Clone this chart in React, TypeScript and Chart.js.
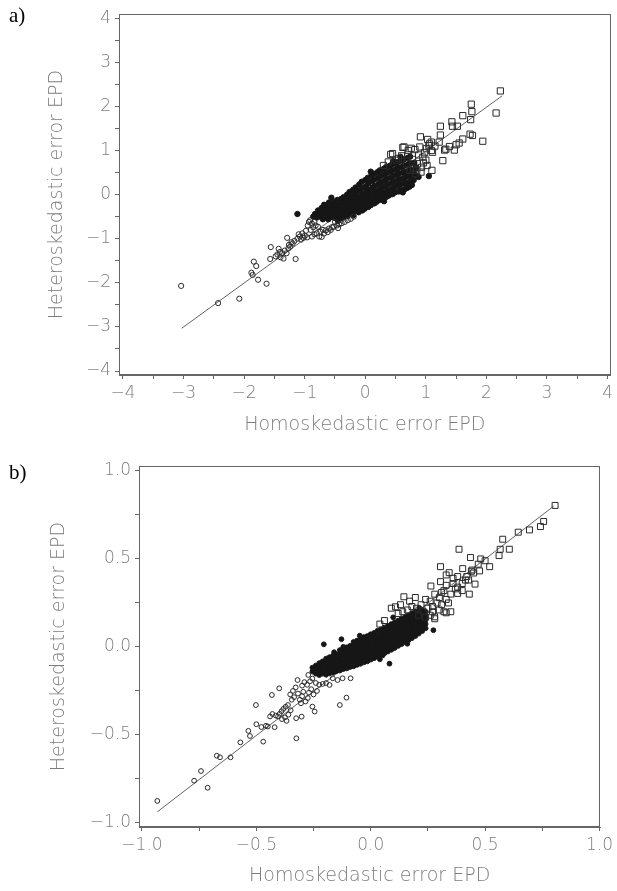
import { useEffect, useRef } from 'react';
import { Chart, registerables } from 'chart.js';

Chart.register(...registerables);

type P = [number, number];

const xTitle = 'Homoskedastic error EPD';
const yTitle = 'Heteroskedastic error EPD';

// ---------- panel a) ----------
const aTickValues = [-4, -3.5, -3, -2.5, -2, -1.5, -1, -0.5, 0, 0.5, 1, 1.5, 2, 2.5, 3, 3.5, 4];
const aTickLabels = ['−4', '', '−3', '', '−2', '', '−1', '', '0', '', '1', '', '2', '', '3', '', '4'];

const aLine: P[] = [[-3.03, -3.03], [2.26, 2.24]];

const aOpenCircles: P[] = [
  [-3.04, -2.07], [-2.43, -2.46], [-2.08, -2.36], [-1.86, -1.82], [-1.88, -1.77], [-1.77, -1.93],
  [-1.63, -2.02], [-1.84, -1.52], [-1.80, -1.62], [-1.57, -1.46], [-1.56, -1.19], [-1.15, -1.46],
  [-1.29, -0.98], [-1.43, -1.23], [-1.37, -1.33], [-1.45, -1.36], [-1.40, -1.42], [-1.33, -1.27],
  [-1.30, -1.33], [-1.27, -1.22], [-1.24, -1.18], [-1.35, -1.45], [-1.41, -1.30], [-1.48, -1.40],
  [-1.20, -1.11], [-1.17, -1.05], [-1.12, -1.00], [-1.08, -0.95], [-1.04, -0.88], [-1.00, -0.93],
  [-0.96, -0.97], [-0.93, -0.62], [-0.91, -0.58], [-0.95, -0.70], [-0.88, -0.95], [-0.84, -0.90],
  [-0.80, -0.88], [-0.76, -0.95], [-0.72, -0.96], [-0.78, -0.73], [-0.70, -0.80], [-0.65, -0.81],
  [-0.60, -0.77], [-0.55, -0.74], [-0.52, -0.73], [-0.47, -0.70], [-0.43, -0.67], [-0.39, -0.65],
  [-0.34, -0.62], [-0.90, -0.80], [-0.86, -0.74], [-0.82, -0.70], [-0.98, -0.82], [-1.02, -0.98],
  [-1.06, -1.02], [-0.74, -0.84], [-0.68, -0.88], [-0.62, -0.85], [-0.57, -0.80], [-0.50, -0.62],
  [-0.45, -0.76], [-0.88, -0.66], [-0.84, -0.62], [-1.10, -0.90], [-1.22, -1.08], [-1.26, -1.14],
  [-0.29, -0.58], [-0.24, -0.55], [-0.19, -0.50],
];

const aFilled: P[] = [
  [-1.12, -0.44], [-0.68, -0.23],
  [-0.86, -0.50], [-0.83, -0.44], [-0.80, -0.52],
  [-0.79, -0.46], [-0.78, -0.36],
  [-0.76, -0.40], [-0.74, -0.50], [-0.72, -0.30], [-0.70, -0.56],
  [-0.69, -0.34], [-0.68, -0.44], [-0.67, -0.52],
  [-0.66, -0.24], [-0.65, -0.36], [-0.63, -0.47], [-0.61, -0.56],
  [-0.60, -0.18], [-0.59, -0.30], [-0.58, -0.41], [-0.57, -0.51],
  [-0.56, -0.07], [-0.55, -0.20], [-0.53, -0.31], [-0.52, -0.42], [-0.50, -0.53],
  [-0.50, -0.16], [-0.49, -0.28], [-0.48, -0.39], [-0.47, -0.50],
  [-0.46, -0.12], [-0.45, -0.24], [-0.44, -0.35], [-0.42, -0.46], [-0.41, -0.54],
  [-0.40, -0.10], [-0.39, -0.21], [-0.38, -0.33], [-0.37, -0.44], [-0.36, -0.52],
  [-0.36, -0.06], [-0.35, -0.18], [-0.33, -0.30], [-0.32, -0.41], [-0.30, -0.49],
  [-0.30, 0.00], [-0.29, -0.12], [-0.28, -0.24], [-0.27, -0.35], [-0.26, -0.45],
  [-0.26, 0.06], [-0.25, -0.06], [-0.24, -0.18], [-0.22, -0.29], [-0.21, -0.40],
  [-0.20, 0.11], [-0.19, -0.01], [-0.18, -0.13], [-0.17, -0.25], [-0.16, -0.36],
  [-0.16, 0.16], [-0.15, 0.04], [-0.14, -0.08], [-0.13, -0.20], [-0.12, -0.32], [-0.11, -0.40],
  [-0.10, 0.23], [-0.09, 0.09], [-0.08, -0.04], [-0.07, -0.16], [-0.06, -0.27], [-0.05, -0.36],
  [-0.06, 0.29], [-0.05, 0.15], [-0.04, 0.01], [-0.03, -0.11], [-0.02, -0.22], [-0.01, -0.32],
  [0.00, 0.33], [0.01, 0.19], [0.02, 0.06], [0.03, -0.06], [0.04, -0.18], [0.05, -0.28],
  [0.04, 0.38], [0.05, 0.25], [0.06, 0.11], [0.07, -0.01], [0.08, -0.13], [0.09, -0.24],
  [0.10, 0.43], [0.11, 0.30], [0.12, 0.16], [0.13, 0.03], [0.14, -0.09], [0.15, -0.20],
  [0.14, 0.47], [0.15, 0.34], [0.16, 0.20], [0.17, 0.07], [0.18, -0.05], [0.19, -0.16],
  [0.20, 0.51], [0.21, 0.38], [0.22, 0.24], [0.23, 0.11], [0.24, -0.01], [0.25, -0.12],
  [0.24, 0.55], [0.25, 0.42], [0.26, 0.28], [0.27, 0.15], [0.28, 0.03], [0.29, -0.09],
  [0.30, 0.58], [0.31, 0.45], [0.32, 0.32], [0.33, 0.19], [0.34, 0.06], [0.35, -0.05],
  [0.34, 0.62], [0.35, 0.49], [0.36, 0.36], [0.37, 0.23], [0.38, 0.10], [0.39, -0.02],
  [0.40, 0.65], [0.41, 0.52], [0.42, 0.39], [0.43, 0.26], [0.44, 0.13], [0.45, 0.01],
  [0.44, 0.68], [0.45, 0.55], [0.46, 0.42], [0.47, 0.29], [0.48, 0.17], [0.49, 0.05],
  [0.50, 0.71], [0.51, 0.58], [0.52, 0.45], [0.53, 0.32], [0.54, 0.20], [0.55, 0.07],
  [0.54, 0.74], [0.55, 0.61], [0.56, 0.48], [0.57, 0.35], [0.58, 0.23], [0.59, 0.10],
  [0.60, 0.77], [0.61, 0.63], [0.62, 0.50], [0.63, 0.37], [0.64, 0.25], [0.65, 0.12],
  [0.64, 0.80], [0.65, 0.66], [0.66, 0.52], [0.67, 0.40], [0.68, 0.27], [0.69, 0.15],
  [0.70, 0.83], [0.71, 0.69], [0.72, 0.55], [0.73, 0.42], [0.74, 0.30], [0.73, 0.18],
  [0.74, 0.86], [0.75, 0.71], [0.76, 0.57], [0.77, 0.44], [0.78, 0.32], [0.77, 0.22],
  [0.81, 0.72], [0.82, 0.58], [0.81, 0.46], [0.80, 0.33],
  [0.88, 0.40], [1.05, 0.42], [0.84, 0.62], [0.62, 0.05],
  [0.09, 0.52], [0.46, 0.76], [-0.20, -0.47], [0.31, -0.15], [0.58, 0.86], [-0.45, -0.60],
];

const aSquares: P[] = [
  [2.23, 2.35], [1.75, 2.05], [1.76, 1.88], [1.74, 1.70], [2.16, 1.85], [1.61, 1.79], [1.43, 1.65],
  [1.44, 1.55], [1.24, 1.55], [1.52, 1.55], [1.73, 1.37], [1.77, 1.34], [1.94, 1.21], [1.61, 1.26],
  [1.55, 1.17], [1.50, 1.13], [1.39, 1.09], [1.31, 1.01], [1.33, 1.03], [1.47, 1.01], [1.28, 0.77],
  [1.24, 1.35], [1.22, 1.19], [1.09, 1.19], [1.11, 0.96], [1.05, 1.11], [0.91, 1.31], [1.03, 1.25],
  [1.01, 1.04], [1.10, 0.55], [0.92, 0.51], [0.62, 1.07], [0.42, 0.91], [0.30, 0.66], [1.06, 1.15],
  [0.45, 0.93], [0.64, 1.08], [0.71, 1.00], [0.82, 1.02], [0.93, 0.62], [1.09, 1.00], [0.51, 0.78],
  [0.78, 0.80], [0.74, 0.55], [0.83, 0.47], [0.38, 0.74], [0.88, 0.90], [0.95, 0.85], [0.70, 0.90],
  [0.60, 0.88], [0.55, 0.82], [0.86, 0.70], [0.98, 0.95], [1.00, 0.78], [0.80, 0.60], [0.90, 1.08],
  [0.76, 1.05], [1.15, 1.10], [0.68, 0.70], [0.96, 0.72], [0.85, 0.55], [1.02, 0.66],
];

// ---------- panel b) ----------
const bTickValues = [-1, -0.75, -0.5, -0.25, 0, 0.25, 0.5, 0.75, 1];
const bTickLabels = ['−1.0', '', '−0.5', '', '0.0', '', '0.5', '', '1.0'];

const bLine: P[] = [[-0.933, -0.937], [0.80, 0.80]];

const bOpenCircles: P[] = [
  [-0.933, -0.875], [-0.772, -0.760], [-0.742, -0.705], [-0.713, -0.800], [-0.673, -0.618],
  [-0.659, -0.627], [-0.613, -0.627], [-0.570, -0.542], [-0.535, -0.477], [-0.528, -0.506],
  [-0.500, -0.439], [-0.502, -0.330], [-0.470, -0.538], [-0.478, -0.455], [-0.458, -0.448],
  [-0.450, -0.452], [-0.432, -0.273], [-0.400, -0.235], [-0.430, -0.381], [-0.420, -0.456],
  [-0.415, -0.390], [-0.405, -0.395], [-0.398, -0.380], [-0.390, -0.365], [-0.382, -0.352],
  [-0.375, -0.400], [-0.368, -0.420], [-0.372, -0.340], [-0.362, -0.330], [-0.325, -0.519],
  [-0.326, -0.405], [-0.302, -0.396], [-0.320, -0.188], [-0.345, -0.300], [-0.335, -0.285],
  [-0.352, -0.270], [-0.340, -0.250], [-0.328, -0.230], [-0.318, -0.265], [-0.310, -0.300],
  [-0.300, -0.280], [-0.295, -0.255], [-0.300, -0.220], [-0.290, -0.200], [-0.305, -0.320],
  [-0.285, -0.310], [-0.275, -0.290], [-0.270, -0.260], [-0.278, -0.215], [-0.265, -0.195],
  [-0.245, -0.367], [-0.255, -0.339], [-0.273, -0.159], [-0.255, -0.180], [-0.240, -0.205],
  [-0.225, -0.215], [-0.210, -0.210], [-0.195, -0.205], [-0.180, -0.216], [-0.166, -0.178],
  [-0.145, -0.188], [-0.123, -0.178], [-0.088, -0.178], [-0.135, -0.330], [-0.106, -0.288],
  [-0.260, -0.240], [-0.250, -0.270], [-0.235, -0.250], [-0.350, -0.360], [-0.360, -0.385],
  [-0.388, -0.410], [-0.440, -0.395],
];

const bFilled: P[] = [
  [-0.205, 0.015], [-0.128, 0.044], [-0.120, 0.000], [0.274, 0.095], [0.082, -0.095],
  [0.052, -0.048], [0.187, 0.076], [0.220, 0.095],
  [-0.048, 0.064], [0.098, 0.168], [-0.160, -0.030], [0.040, -0.070], [0.160, 0.018], [0.212, 0.222],
  [-0.255, -0.140], [-0.255, -0.118],
  [-0.240, -0.152], [-0.240, -0.128], [-0.240, -0.106],
  [-0.225, -0.160], [-0.225, -0.138], [-0.225, -0.114], [-0.225, -0.092],
  [-0.210, -0.152], [-0.210, -0.128], [-0.210, -0.104], [-0.210, -0.082],
  [-0.195, -0.158], [-0.195, -0.136], [-0.195, -0.112], [-0.195, -0.088], [-0.195, -0.066],
  [-0.180, -0.150], [-0.180, -0.126], [-0.180, -0.102], [-0.180, -0.078], [-0.180, -0.058],
  [-0.165, -0.146], [-0.165, -0.122], [-0.165, -0.098], [-0.165, -0.074], [-0.165, -0.050],
  [-0.150, -0.138], [-0.150, -0.114], [-0.150, -0.090], [-0.150, -0.066], [-0.150, -0.042],
  [-0.135, -0.134], [-0.135, -0.110], [-0.135, -0.086], [-0.135, -0.062], [-0.135, -0.038], [-0.135, -0.018],
  [-0.120, -0.126], [-0.120, -0.102], [-0.120, -0.078], [-0.120, -0.054], [-0.120, -0.030], [-0.120, -0.008],
  [-0.105, -0.122], [-0.105, -0.098], [-0.105, -0.074], [-0.105, -0.050], [-0.105, -0.026], [-0.105, -0.002],
  [-0.090, -0.114], [-0.090, -0.090], [-0.090, -0.066], [-0.090, -0.042], [-0.090, -0.018], [-0.090, 0.006],
  [-0.075, -0.110], [-0.075, -0.086], [-0.075, -0.062], [-0.075, -0.038], [-0.075, -0.014], [-0.075, 0.010], [-0.075, 0.028],
  [-0.060, -0.102], [-0.060, -0.078], [-0.060, -0.054], [-0.060, -0.030], [-0.060, -0.006], [-0.060, 0.018], [-0.060, 0.036],
  [-0.045, -0.096], [-0.045, -0.072], [-0.045, -0.048], [-0.045, -0.024], [-0.045, 0.000], [-0.045, 0.024], [-0.045, 0.046],
  [-0.030, -0.088], [-0.030, -0.064], [-0.030, -0.040], [-0.030, -0.016], [-0.030, 0.008], [-0.030, 0.032], [-0.030, 0.056],
  [-0.015, -0.082], [-0.015, -0.058], [-0.015, -0.034], [-0.015, -0.010], [-0.015, 0.014], [-0.015, 0.038], [-0.015, 0.062],
  [0.000, -0.072], [0.000, -0.048], [0.000, -0.024], [0.000, 0.000], [0.000, 0.024], [0.000, 0.048], [0.000, 0.072],
  [0.015, -0.064], [0.015, -0.040], [0.015, -0.016], [0.015, 0.008], [0.015, 0.032], [0.015, 0.056], [0.015, 0.080],
  [0.030, -0.054], [0.030, -0.030], [0.030, -0.006], [0.030, 0.018], [0.030, 0.042], [0.030, 0.066], [0.030, 0.092],
  [0.045, -0.046], [0.045, -0.022], [0.045, 0.002], [0.045, 0.026], [0.045, 0.050], [0.045, 0.074], [0.045, 0.100],
  [0.060, -0.036], [0.060, -0.012], [0.060, 0.012], [0.060, 0.036], [0.060, 0.060], [0.060, 0.084], [0.060, 0.110],
  [0.075, -0.026], [0.075, -0.002], [0.075, 0.022], [0.075, 0.046], [0.075, 0.070], [0.075, 0.094], [0.075, 0.120],
  [0.090, -0.016], [0.090, 0.008], [0.090, 0.032], [0.090, 0.056], [0.090, 0.080], [0.090, 0.104], [0.090, 0.130],
  [0.105, -0.006], [0.105, 0.018], [0.105, 0.042], [0.105, 0.066], [0.105, 0.090], [0.105, 0.114], [0.105, 0.140],
  [0.120, 0.006], [0.120, 0.030], [0.120, 0.054], [0.120, 0.078], [0.120, 0.102], [0.120, 0.126], [0.120, 0.150],
  [0.135, 0.016], [0.135, 0.040], [0.135, 0.064], [0.135, 0.088], [0.135, 0.112], [0.135, 0.136], [0.135, 0.160],
  [0.150, 0.028], [0.150, 0.052], [0.150, 0.076], [0.150, 0.100], [0.150, 0.124], [0.150, 0.148], [0.150, 0.170],
  [0.165, 0.038], [0.165, 0.062], [0.165, 0.086], [0.165, 0.110], [0.165, 0.134], [0.165, 0.158], [0.165, 0.180],
  [0.180, 0.050], [0.180, 0.074], [0.180, 0.098], [0.180, 0.122], [0.180, 0.146], [0.180, 0.170], [0.180, 0.192],
  [0.195, 0.062], [0.195, 0.086], [0.195, 0.110], [0.195, 0.134], [0.195, 0.158], [0.195, 0.182], [0.195, 0.202],
  [0.210, 0.076], [0.210, 0.100], [0.210, 0.124], [0.210, 0.148], [0.210, 0.172], [0.210, 0.196],
  [0.225, 0.090], [0.225, 0.114], [0.225, 0.138], [0.225, 0.162], [0.225, 0.186], [0.225, 0.208],
  [0.240, 0.106], [0.240, 0.130], [0.240, 0.154], [0.240, 0.178], [0.240, 0.200],
];

const bSquares: P[] = [
  [0.806, 0.804], [0.756, 0.713], [0.742, 0.684], [0.694, 0.665], [0.645, 0.652], [0.577, 0.612],
  [0.566, 0.555], [0.606, 0.555], [0.561, 0.519], [0.520, 0.456], [0.481, 0.500], [0.436, 0.508],
  [0.386, 0.555], [0.305, 0.456], [0.343, 0.422], [0.330, 0.409], [0.402, 0.445], [0.443, 0.437],
  [0.476, 0.432], [0.428, 0.380], [0.456, 0.357], [0.431, 0.300], [0.414, 0.380], [0.380, 0.304],
  [0.330, 0.194], [0.305, 0.371], [0.263, 0.346], [0.145, 0.285], [0.195, 0.281], [0.279, 0.171],
  [0.108, 0.228], [0.360, 0.360], [0.370, 0.330], [0.350, 0.300], [0.320, 0.320], [0.300, 0.280],
  [0.280, 0.300], [0.260, 0.260], [0.240, 0.270], [0.220, 0.240], [0.250, 0.220], [0.270, 0.230],
  [0.290, 0.250], [0.310, 0.240], [0.330, 0.270], [0.340, 0.250], [0.230, 0.200], [0.200, 0.220],
  [0.180, 0.230], [0.160, 0.210], [0.140, 0.200], [0.120, 0.190], [0.300, 0.210], [0.320, 0.200],
  [0.260, 0.180], [0.240, 0.170], [0.380, 0.340], [0.400, 0.320], [0.280, 0.160], [0.210, 0.180],
  [0.170, 0.260], [0.130, 0.240], [0.090, 0.220], [0.060, 0.150], [0.040, 0.130], [0.350, 0.200],
  [0.270, 0.200], [0.330, 0.350], [0.310, 0.310], [0.400, 0.360], [0.420, 0.400], [0.450, 0.420],
  [0.470, 0.470], [0.500, 0.490], [0.440, 0.430], [0.380, 0.400], [0.360, 0.390],
];

// ---------- styling ----------
const FONT = "'DejaVu Sans', 'Noto Sans', sans-serif";
const AXIS_COLOR = '#666666';
const TEXT_COLOR = '#7c7c7c';

const toXY = (arr: P[]) => arr.map(([x, y]) => ({ x, y }));

const framePlugin = {
  id: 'frame',
  beforeDatasetsDraw(chart: any) {
    const { ctx, chartArea } = chart;
    const { left, top, right, bottom } = chartArea;
    ctx.save();
    ctx.strokeStyle = AXIS_COLOR;
    ctx.lineWidth = 1;
    ctx.strokeRect(Math.round(left) + 0.5, Math.round(top) + 0.5, Math.round(right - left) - 1, Math.round(bottom - top) - 1);
    ctx.restore();
  },
};

function axis(kind: 'x' | 'y', min: number, max: number, values: number[], labels: string[], fixed: number, titlePad: number) {
  return {
    type: 'linear',
    position: kind === 'x' ? 'bottom' : 'left',
    min,
    max,
    bounds: 'data',
    afterBuildTicks: (s: any) => {
      s.ticks = values.map((v) => ({ value: v }));
    },
    afterFit: (s: any) => {
      if (kind === 'x') s.height = fixed;
      else s.width = fixed;
    },
    grid: { display: true, drawOnChartArea: false, drawTicks: true, tickLength: 4, color: AXIS_COLOR, lineWidth: 1 },
    border: { display: true, color: AXIS_COLOR, width: 1 },
    ticks: {
      autoSkip: false,
      maxRotation: 0,
      minRotation: 0,
      padding: 4,
      color: TEXT_COLOR,
      font: { family: FONT, size: 17, weight: '200' },
      callback: (_v: any, i: number) => labels[i] ?? '',
    },
    title: {
      display: true,
      text: kind === 'x' ? xTitle : yTitle,
      color: TEXT_COLOR,
      font: { family: FONT, size: 19, weight: '200' },
      padding: kind === 'x' ? { top: 0, bottom: titlePad } : { top: titlePad, bottom: 0 },
    },
  };
}

function makeConfig(p: {
  line: P[]; circles: P[]; filled: P[]; squares: P[];
  xr: [number, number]; yr: [number, number]; values: number[]; labels: string[];
  yWidth: number; xHeight: number; xTitlePad: number; yTitlePad: number;
  padding: { left: number; top: number; right: number; bottom: number };
  rFilled: number; rCircle: number; rSquare: number;
}): any {
  return {
    type: 'scatter',
    data: {
      datasets: [
        {
          data: toXY(p.squares), pointStyle: 'rect', pointRadius: p.rSquare,
          backgroundColor: 'rgba(0,0,0,0)', borderColor: '#2a2a2a', borderWidth: 1,
        },
        {
          data: toXY(p.circles), pointStyle: 'circle', pointRadius: p.rCircle,
          backgroundColor: 'rgba(0,0,0,0)', borderColor: '#2a2a2a', borderWidth: 1,
        },
        {
          data: toXY(p.filled), pointStyle: 'circle', pointRadius: p.rFilled,
          backgroundColor: '#161616', borderColor: '#161616', borderWidth: 1,
        },
        {
          data: toXY(p.line), showLine: true, borderColor: '#3a3a3a', borderWidth: 0.8,
          pointRadius: 0, fill: false,
        },
      ],
    },
    options: {
      responsive: false,
      maintainAspectRatio: false,
      animation: false,
      events: [],
      layout: { padding: p.padding },
      plugins: { legend: { display: false }, tooltip: { enabled: false } },
      scales: {
        x: axis('x', p.xr[0], p.xr[1], p.values, p.labels, p.xHeight, p.xTitlePad),
        y: axis('y', p.yr[0], p.yr[1], p.values, p.labels, p.yWidth, p.yTitlePad),
      },
    },
    plugins: [framePlugin],
  };
}

export default function App() {
  const aRef = useRef<HTMLCanvasElement>(null);
  const bRef = useRef<HTMLCanvasElement>(null);

  useEffect(() => {
    const a = new Chart(aRef.current as HTMLCanvasElement, makeConfig({
      line: aLine, circles: aOpenCircles, filled: aFilled, squares: aSquares,
      xr: [-4.066, 4.05], yr: [-4.09, 4.09], values: aTickValues, labels: aTickLabels,
      yWidth: 119, xHeight: 75, xTitlePad: 14, yTitlePad: 46,
      padding: { left: 0, top: 9.5, right: 4, bottom: 0 },
      rFilled: 2.7, rCircle: 2.6, rSquare: 4.4,
    }));
    const b = new Chart(bRef.current as HTMLCanvasElement, makeConfig({
      line: bLine, circles: bOpenCircles, filled: bFilled, squares: bSquares,
      xr: [-1.013, 1.004], yr: [-1.023, 1.028], values: bTickValues, labels: bTickLabels,
      yWidth: 139, xHeight: 64, xTitlePad: 4, yTitlePad: 48,
      padding: { left: 0, top: 16, right: 7, bottom: 0 },
      rFilled: 2.4, rCircle: 2.4, rSquare: 4.2,
    }));
    return () => {
      a.destroy();
      b.destroy();
    };
  }, []);

  const labelStyle: any = {
    position: 'absolute', left: 9, fontFamily: "'Liberation Serif', 'Times New Roman', serif",
    fontSize: 21, lineHeight: '24px', color: '#000',
  };

  return (
    <div style={{ position: 'absolute', left: 0, top: 0, width: 617, height: 891, background: '#fff', overflow: 'hidden' }}>
      <canvas ref={aRef} width={617} height={450} style={{ position: 'absolute', left: 0, top: 0, width: 617, height: 450 }} />
      <canvas ref={bRef} width={617} height={441} style={{ position: 'absolute', left: 0, top: 450, width: 617, height: 441 }} />
      <div style={{ ...labelStyle, top: 3 }}>a)</div>
      <div style={{ ...labelStyle, top: 460 }}>b)</div>
    </div>
  );
}
